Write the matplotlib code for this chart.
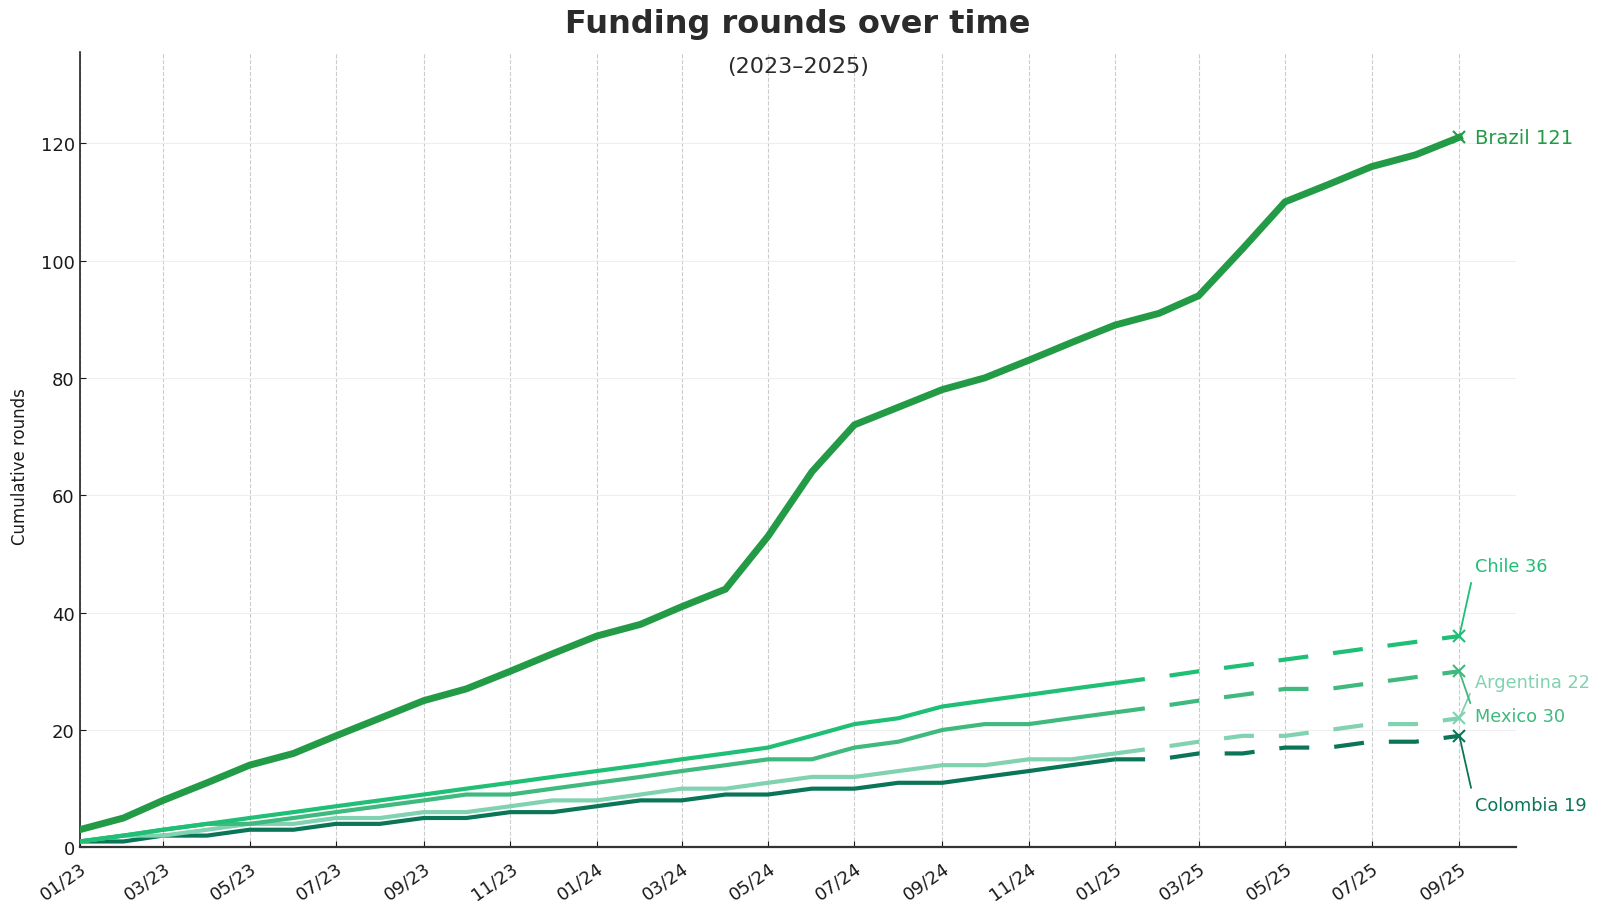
import pandas as pd
import numpy as np
import matplotlib
matplotlib.use("Agg")
import matplotlib.pyplot as plt
import matplotlib.dates as mdates

# monthly cumulative funding rounds, 01/2023 -> 09/2025
months = pd.date_range("2023-01-01", "2025-09-01", freq="MS")

brazil = [3, 5, 8, 11, 14, 16, 19, 22, 25, 27, 30, 33,
          36, 38, 41, 44, 53, 64, 72, 75, 78, 80, 83, 86,
          89, 91, 94, 102, 110, 113, 116, 118, 121]
chile = [1, 2, 3, 4, 5, 6, 7, 8, 9, 10, 11, 12,
         13, 14, 15, 16, 17, 19, 21, 22, 24, 25, 26, 27,
         28, 29, 30, 31, 32, 33, 34, 35, 36]
mexico = [1, 2, 3, 4, 4, 5, 6, 7, 8, 9, 9, 10,
          11, 12, 13, 14, 15, 15, 17, 18, 20, 21, 21, 22,
          23, 24, 25, 26, 27, 27, 28, 29, 30]
argentina = [1, 2, 2, 3, 4, 4, 5, 5, 6, 6, 7, 8,
             8, 9, 10, 10, 11, 12, 12, 13, 14, 14, 15, 15,
             16, 17, 18, 19, 19, 20, 21, 21, 22]
colombia = [1, 1, 2, 2, 3, 3, 4, 4, 5, 5, 6, 6,
            7, 8, 8, 9, 9, 10, 10, 11, 11, 12, 13, 14,
            15, 15, 16, 16, 17, 17, 18, 18, 19]

# index of 01/25 : after that the small countries are drawn dashed
split = 24

# label heights (data units) for the right-hand annotations
label_y = {"Chile": 48, "Argentina": 28.1, "Mexico": 22.3, "Colombia": 7.2}

c_brazil = "#239b46"
c_chile = "#1fbf75"
c_mexico = "#40b97f"
c_argentina = "#80d2b1"
c_colombia = "#0b7657"

fig = plt.figure(figsize=(16, 9.12), dpi=100)
ax = fig.add_axes([0.0497, 0.0698, 0.8978, 0.872])

others = [("Colombia", colombia, c_colombia),
          ("Argentina", argentina, c_argentina),
          ("Mexico", mexico, c_mexico),
          ("Chile", chile, c_chile)]

for name, vals, col in others:
    ax.plot(months[:split + 1], vals[:split + 1], color=col, lw=3,
            solid_capstyle="butt", zorder=3)
    ax.plot(months[split:], vals[split:], color=col, lw=3,
            dashes=(7.2, 6.0), zorder=3)
    ax.plot(months[-1], vals[-1], marker="x", ms=8, mew=1.5, color=col, zorder=4)

ax.plot(months, brazil, color=c_brazil, lw=5, solid_joinstyle="miter", zorder=5)
ax.plot(months[-1], brazil[-1], marker="x", ms=8, mew=1.5, color=c_brazil, zorder=6)

# end labels
lx = months[-1] + pd.Timedelta(days=11)
ax.text(lx, brazil[-1], "Brazil %d" % brazil[-1], color=c_brazil,
        fontsize=14, ha="left", va="center")
for name, vals, col in others:
    ax.annotate("%s %d" % (name, vals[-1]), xy=(months[-1], vals[-1]),
                xytext=(lx, label_y[name]), color=col, fontsize=12.8,
                ha="left", va="center",
                arrowprops=dict(arrowstyle="-", color=col, lw=1.3,
                                relpos=(0, 0.5), shrinkA=4, shrinkB=0))

ax.set_xlim(months[0], months[-1] + pd.Timedelta(days=40))
ax.set_ylim(0, 121 * 1.12)
ax.xaxis.set_major_locator(mdates.MonthLocator(interval=2))
ax.xaxis.set_major_formatter(mdates.DateFormatter("%m/%y"))
ax.set_yticks(np.arange(0, 121, 20))

plt.setp(ax.get_xticklabels(), rotation=35, ha="right", rotation_mode="anchor")
ax.tick_params(axis="both", direction="in", labelsize=13, colors="#1a1a1a", length=4)
ax.tick_params(axis="x", pad=8)

ax.grid(axis="x", color="#cccccc", ls="--", lw=0.8)
ax.grid(axis="y", color="#eeeeee", ls="-", lw=0.8)
ax.set_axisbelow(True)

for s in ["top", "right"]:
    ax.spines[s].set_visible(False)
ax.spines["left"].set_color("#222222")
ax.spines["left"].set_linewidth(1.2)
ax.spines["bottom"].set_color("#333333")
ax.spines["bottom"].set_linewidth(1.6)

ax.set_ylabel("Cumulative rounds", fontsize=12, color="#1a1a1a")
ax.yaxis.set_label_coords(-0.035, 0.48)

mid = 0.0497 + 0.8978 / 2
fig.text(mid, 1 - 25 / 912, "Funding rounds over time", ha="center", va="center",
         fontsize=23, fontweight="bold", color="#2b2b2b")
fig.text(mid, 1 - 67 / 912, "(2023\u20132025)", ha="center", va="center",
         fontsize=16, color="#2b2b2b")

fig.savefig("out.png", dpi=100)
